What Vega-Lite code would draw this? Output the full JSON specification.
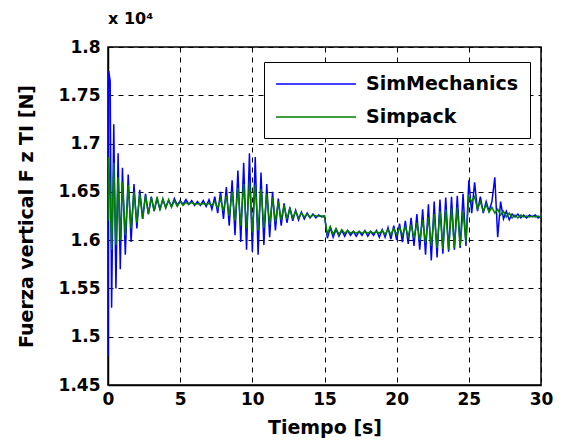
{
  "$schema": "https://vega.github.io/schema/vega-lite/v6.json",
  "width": 433,
  "height": 338,
  "autosize": {"type": "none"},
  "padding": {"left": 108, "top": 47, "right": 22, "bottom": 56},
  "background": "white",
  "title": {"text": "x 10⁴", "anchor": "start", "frame": "group", "font": "DejaVu Sans", "fontSize": 16, "fontWeight": "bold", "color": "black", "offset": 11},
  "data": {"values": [
    {"t":0,"SimMechanics":1.48,"Simpack":1.62},
    {"t":0.05,"SimMechanics":1.775,"Simpack":1.686},
    {"t":0.15,"SimMechanics":1.765,"Simpack":1.64},
    {"t":0.25,"SimMechanics":1.53,"Simpack":1.59},
    {"t":0.4,"SimMechanics":1.72,"Simpack":1.68},
    {"t":0.55,"SimMechanics":1.55,"Simpack":1.595},
    {"t":0.7,"SimMechanics":1.69,"Simpack":1.665},
    {"t":0.85,"SimMechanics":1.57,"Simpack":1.6},
    {"t":1.0,"SimMechanics":1.675,"Simpack":1.66},
    {"t":1.2,"SimMechanics":1.585,"Simpack":1.605},
    {"t":1.4,"SimMechanics":1.668,"Simpack":1.657},
    {"t":1.6,"SimMechanics":1.598,"Simpack":1.612},
    {"t":1.8,"SimMechanics":1.658,"Simpack":1.65},
    {"t":2.0,"SimMechanics":1.612,"Simpack":1.618},
    {"t":2.2,"SimMechanics":1.652,"Simpack":1.648},
    {"t":2.4,"SimMechanics":1.622,"Simpack":1.622},
    {"t":2.6,"SimMechanics":1.648,"Simpack":1.646},
    {"t":2.8,"SimMechanics":1.627,"Simpack":1.627},
    {"t":3.0,"SimMechanics":1.645,"Simpack":1.644},
    {"t":3.2,"SimMechanics":1.63,"Simpack":1.63},
    {"t":3.4,"SimMechanics":1.643,"Simpack":1.645},
    {"t":3.6,"SimMechanics":1.632,"Simpack":1.631},
    {"t":3.8,"SimMechanics":1.642,"Simpack":1.643},
    {"t":4.0,"SimMechanics":1.634,"Simpack":1.633},
    {"t":4.2,"SimMechanics":1.641,"Simpack":1.642},
    {"t":4.4,"SimMechanics":1.635,"Simpack":1.634},
    {"t":4.6,"SimMechanics":1.643,"Simpack":1.641},
    {"t":4.8,"SimMechanics":1.636,"Simpack":1.635},
    {"t":5.0,"SimMechanics":1.641,"Simpack":1.64},
    {"t":5.2,"SimMechanics":1.637,"Simpack":1.636},
    {"t":5.4,"SimMechanics":1.642,"Simpack":1.639},
    {"t":5.6,"SimMechanics":1.637,"Simpack":1.637},
    {"t":5.8,"SimMechanics":1.641,"Simpack":1.639},
    {"t":6.0,"SimMechanics":1.636,"Simpack":1.637},
    {"t":6.2,"SimMechanics":1.64,"Simpack":1.638},
    {"t":6.4,"SimMechanics":1.636,"Simpack":1.637},
    {"t":6.6,"SimMechanics":1.641,"Simpack":1.638},
    {"t":6.8,"SimMechanics":1.635,"Simpack":1.637},
    {"t":7.0,"SimMechanics":1.642,"Simpack":1.638},
    {"t":7.2,"SimMechanics":1.632,"Simpack":1.636},
    {"t":7.4,"SimMechanics":1.645,"Simpack":1.64},
    {"t":7.6,"SimMechanics":1.628,"Simpack":1.633},
    {"t":7.8,"SimMechanics":1.65,"Simpack":1.643},
    {"t":8.0,"SimMechanics":1.622,"Simpack":1.63},
    {"t":8.2,"SimMechanics":1.655,"Simpack":1.646},
    {"t":8.4,"SimMechanics":1.615,"Simpack":1.625},
    {"t":8.6,"SimMechanics":1.662,"Simpack":1.65},
    {"t":8.8,"SimMechanics":1.605,"Simpack":1.62},
    {"t":9.0,"SimMechanics":1.672,"Simpack":1.654},
    {"t":9.2,"SimMechanics":1.598,"Simpack":1.615},
    {"t":9.4,"SimMechanics":1.68,"Simpack":1.658},
    {"t":9.6,"SimMechanics":1.59,"Simpack":1.612},
    {"t":9.8,"SimMechanics":1.69,"Simpack":1.66},
    {"t":10.0,"SimMechanics":1.588,"Simpack":1.608},
    {"t":10.2,"SimMechanics":1.686,"Simpack":1.657},
    {"t":10.4,"SimMechanics":1.585,"Simpack":1.61},
    {"t":10.6,"SimMechanics":1.67,"Simpack":1.653},
    {"t":10.8,"SimMechanics":1.595,"Simpack":1.613},
    {"t":11.0,"SimMechanics":1.658,"Simpack":1.648},
    {"t":11.2,"SimMechanics":1.603,"Simpack":1.616},
    {"t":11.4,"SimMechanics":1.65,"Simpack":1.644},
    {"t":11.6,"SimMechanics":1.61,"Simpack":1.619},
    {"t":11.8,"SimMechanics":1.643,"Simpack":1.64},
    {"t":12.0,"SimMechanics":1.615,"Simpack":1.621},
    {"t":12.2,"SimMechanics":1.638,"Simpack":1.636},
    {"t":12.4,"SimMechanics":1.618,"Simpack":1.622},
    {"t":12.6,"SimMechanics":1.634,"Simpack":1.633},
    {"t":12.8,"SimMechanics":1.62,"Simpack":1.623},
    {"t":13.0,"SimMechanics":1.631,"Simpack":1.63},
    {"t":13.2,"SimMechanics":1.621,"Simpack":1.623},
    {"t":13.4,"SimMechanics":1.629,"Simpack":1.628},
    {"t":13.6,"SimMechanics":1.622,"Simpack":1.624},
    {"t":13.8,"SimMechanics":1.628,"Simpack":1.627},
    {"t":14.0,"SimMechanics":1.623,"Simpack":1.624},
    {"t":14.2,"SimMechanics":1.627,"Simpack":1.626},
    {"t":14.4,"SimMechanics":1.623,"Simpack":1.625},
    {"t":14.6,"SimMechanics":1.626,"Simpack":1.625},
    {"t":14.8,"SimMechanics":1.624,"Simpack":1.625},
    {"t":15.0,"SimMechanics":1.625,"Simpack":1.625},
    {"t":15.2,"SimMechanics":1.602,"Simpack":1.606},
    {"t":15.4,"SimMechanics":1.613,"Simpack":1.614},
    {"t":15.6,"SimMechanics":1.603,"Simpack":1.606},
    {"t":15.8,"SimMechanics":1.611,"Simpack":1.612},
    {"t":16.0,"SimMechanics":1.604,"Simpack":1.606},
    {"t":16.2,"SimMechanics":1.61,"Simpack":1.611},
    {"t":16.4,"SimMechanics":1.604,"Simpack":1.607},
    {"t":16.6,"SimMechanics":1.61,"Simpack":1.61},
    {"t":16.8,"SimMechanics":1.605,"Simpack":1.607},
    {"t":17.0,"SimMechanics":1.609,"Simpack":1.609},
    {"t":17.2,"SimMechanics":1.604,"Simpack":1.607},
    {"t":17.4,"SimMechanics":1.609,"Simpack":1.609},
    {"t":17.6,"SimMechanics":1.605,"Simpack":1.607},
    {"t":17.8,"SimMechanics":1.61,"Simpack":1.609},
    {"t":18.0,"SimMechanics":1.604,"Simpack":1.607},
    {"t":18.2,"SimMechanics":1.609,"Simpack":1.609},
    {"t":18.4,"SimMechanics":1.605,"Simpack":1.607},
    {"t":18.6,"SimMechanics":1.61,"Simpack":1.609},
    {"t":18.8,"SimMechanics":1.603,"Simpack":1.607},
    {"t":19.0,"SimMechanics":1.611,"Simpack":1.61},
    {"t":19.2,"SimMechanics":1.603,"Simpack":1.606},
    {"t":19.4,"SimMechanics":1.613,"Simpack":1.611},
    {"t":19.6,"SimMechanics":1.601,"Simpack":1.606},
    {"t":19.8,"SimMechanics":1.615,"Simpack":1.612},
    {"t":20.0,"SimMechanics":1.6,"Simpack":1.606},
    {"t":20.2,"SimMechanics":1.617,"Simpack":1.613},
    {"t":20.4,"SimMechanics":1.598,"Simpack":1.605},
    {"t":20.6,"SimMechanics":1.62,"Simpack":1.614},
    {"t":20.8,"SimMechanics":1.596,"Simpack":1.604},
    {"t":21.0,"SimMechanics":1.623,"Simpack":1.616},
    {"t":21.2,"SimMechanics":1.594,"Simpack":1.602},
    {"t":21.4,"SimMechanics":1.627,"Simpack":1.618},
    {"t":21.6,"SimMechanics":1.59,"Simpack":1.6},
    {"t":21.8,"SimMechanics":1.632,"Simpack":1.621},
    {"t":22.0,"SimMechanics":1.585,"Simpack":1.597},
    {"t":22.2,"SimMechanics":1.637,"Simpack":1.624},
    {"t":22.4,"SimMechanics":1.579,"Simpack":1.594},
    {"t":22.6,"SimMechanics":1.64,"Simpack":1.627},
    {"t":22.8,"SimMechanics":1.582,"Simpack":1.592},
    {"t":23.0,"SimMechanics":1.642,"Simpack":1.63},
    {"t":23.2,"SimMechanics":1.586,"Simpack":1.591},
    {"t":23.4,"SimMechanics":1.644,"Simpack":1.632},
    {"t":23.6,"SimMechanics":1.588,"Simpack":1.59},
    {"t":23.8,"SimMechanics":1.645,"Simpack":1.633},
    {"t":24.0,"SimMechanics":1.59,"Simpack":1.592},
    {"t":24.2,"SimMechanics":1.646,"Simpack":1.634},
    {"t":24.4,"SimMechanics":1.592,"Simpack":1.594},
    {"t":24.6,"SimMechanics":1.648,"Simpack":1.63},
    {"t":24.8,"SimMechanics":1.594,"Simpack":1.598},
    {"t":25.0,"SimMechanics":1.662,"Simpack":1.645},
    {"t":25.2,"SimMechanics":1.628,"Simpack":1.64},
    {"t":25.4,"SimMechanics":1.66,"Simpack":1.645},
    {"t":25.6,"SimMechanics":1.63,"Simpack":1.632},
    {"t":25.8,"SimMechanics":1.645,"Simpack":1.64},
    {"t":26.0,"SimMechanics":1.628,"Simpack":1.63},
    {"t":26.2,"SimMechanics":1.64,"Simpack":1.637},
    {"t":26.4,"SimMechanics":1.63,"Simpack":1.629},
    {"t":26.6,"SimMechanics":1.64,"Simpack":1.634},
    {"t":26.8,"SimMechanics":1.665,"Simpack":1.628},
    {"t":27.0,"SimMechanics":1.603,"Simpack":1.632},
    {"t":27.2,"SimMechanics":1.64,"Simpack":1.626},
    {"t":27.4,"SimMechanics":1.622,"Simpack":1.63},
    {"t":27.6,"SimMechanics":1.63,"Simpack":1.624},
    {"t":27.8,"SimMechanics":1.621,"Simpack":1.628},
    {"t":28.0,"SimMechanics":1.627,"Simpack":1.623},
    {"t":28.2,"SimMechanics":1.624,"Simpack":1.626},
    {"t":28.4,"SimMechanics":1.627,"Simpack":1.623},
    {"t":28.6,"SimMechanics":1.623,"Simpack":1.626},
    {"t":28.8,"SimMechanics":1.626,"Simpack":1.624},
    {"t":29.0,"SimMechanics":1.623,"Simpack":1.625},
    {"t":29.2,"SimMechanics":1.626,"Simpack":1.624},
    {"t":29.4,"SimMechanics":1.624,"Simpack":1.625},
    {"t":29.6,"SimMechanics":1.626,"Simpack":1.624},
    {"t":29.8,"SimMechanics":1.623,"Simpack":1.625},
    {"t":30.0,"SimMechanics":1.625,"Simpack":1.624}
  ]},
  "transform": [{"fold": ["SimMechanics", "Simpack"], "as": ["serie", "valor"]}],
  "mark": {"type": "line", "strokeWidth": 1.5, "clip": true},
  "encoding": {
    "x": {"field": "t", "type": "quantitative", "scale": {"domain": [0, 30], "nice": false, "zero": false},
      "axis": {"title": "Tiempo [s]", "values": [0, 5, 10, 15, 20, 25, 30], "labelFlush": false, "labelOverlap": false, "labelPadding": 6, "titlePadding": 11}},
    "y": {"field": "valor", "type": "quantitative", "scale": {"domain": [1.45, 1.8], "nice": false, "zero": false},
      "axis": {"title": "Fuerza vertical F z TI [N]", "values": [1.45, 1.5, 1.55, 1.6, 1.65, 1.7, 1.75, 1.8], "format": "~g", "labelFlush": false, "labelOverlap": false, "labelPadding": 8, "titlePadding": 22}},
    "color": {"field": "serie", "type": "nominal",
      "scale": {"domain": ["SimMechanics", "Simpack"], "range": ["#0000ff", "#008000"]},
      "legend": {"title": null, "orient": "none", "legendX": 156, "legendY": 15, "symbolType": "M-4,0H4", "symbolSize": 400, "symbolStrokeWidth": 1.5, "symbolOffset": 30, "labelOffset": 39, "rowPadding": 12, "padding": 11, "strokeColor": "black", "fillColor": "white", "labelFont": "DejaVu Sans", "labelFontWeight": "bold", "labelFontSize": 19, "labelColor": "black", "labelLimit": 300}}
  },
  "config": {
    "font": "DejaVu Sans",
    "view": {"stroke": "black", "strokeWidth": 1.5},
    "axis": {"labelFont": "DejaVu Sans", "labelFontWeight": "bold", "labelFontSize": 17, "labelColor": "black", "titleFont": "DejaVu Sans", "titleFontWeight": "bold", "titleFontSize": 19, "titleColor": "black", "gridColor": "black", "gridDash": [5, 5], "gridOpacity": 1, "gridWidth": 1, "domainColor": "black", "domainWidth": 1.5, "ticks": false}
  }
}
